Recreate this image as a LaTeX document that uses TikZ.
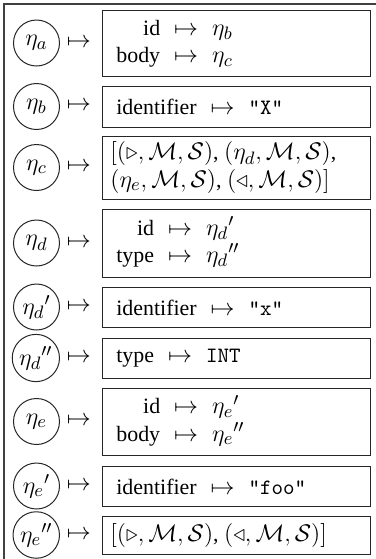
\documentclass[tikz,border=0pt]{standalone}
\usepackage{fontspec}
\setmainfont{Liberation Serif}
\DeclareMathSizes{10.95}{12}{8.6}{6.5}
\begin{document}
\begin{tikzpicture}[x=0.5pt,y=-0.5pt,
  every node/.style={font=\fontsize{10.95}{13.6}\selectfont},
  frame/.style={draw=black!75,line width=0.6pt},
  entry/.style={draw=black!85,line width=0.6pt,rectangle,minimum width=134pt,anchor=north west,inner sep=0pt},
  handle/.style={draw=black!85,line width=0.5pt,circle,minimum size=23pt,inner sep=1.2pt,anchor=east},
  content/.style={anchor=west,inner sep=0pt,align=left},
  maps/.style={inner sep=0pt}]
\useasboundingbox (0,0) rectangle (376,559);
\draw[frame] (4,559) -- (4,4) -- (376,4);
% row a
\node[entry,minimum height=33pt] (bA) at (102,10) {};
\node[content] (tA) at ([xshift=7pt]bA.west) {\begin{tabular}{@{}r@{\hspace{7pt}}c@{\hspace{7pt}}l@{}}id&$\mapsto$&$\eta_b$\\body&$\mapsto$&$\eta_c$\end{tabular}};
\node[handle] (cA) at (60,43) {$\eta_a$};
\node[maps] (mA) at (79,43) {$\mapsto$};
% row b
\node[entry,minimum height=20.5pt] (bB) at (102,86) {};
\node[content] (tB) at ([xshift=7pt]bB.west) {identifier\hspace{7pt}$\mapsto$\hspace{7pt}\texttt{"X"}};
\node[handle] (cB) at (60,106.5) {$\eta_b$};
\node[maps] (mB) at (79,106.5) {$\mapsto$};
% row c
\node[entry,minimum height=31.5pt] (bC) at (102,136) {};
\node[content] (tC) at ([xshift=4pt]bC.west) {\begin{tabular}{@{}l@{}}$[(\triangleright, \mathcal{M}, \mathcal{S})$, $(\eta_d, \mathcal{M}, \mathcal{S})$,\\$(\eta_e, \mathcal{M}, \mathcal{S})$, $(\triangleleft, \mathcal{M}, \mathcal{S})]$\end{tabular}};
\node[handle] (cC) at (60,167.5) {$\eta_c$};
\node[maps] (mC) at (79,167.5) {$\mapsto$};
% row d
\node[entry,minimum height=34pt] (bD) at (102,209) {};
\node[content] (tD) at ([xshift=7pt]bD.west) {\begin{tabular}{@{}r@{\hspace{7pt}}c@{\hspace{7pt}}l@{}}id&$\mapsto$&${\eta_d}'$\\type&$\mapsto$&${\eta_d}''$\end{tabular}};
\node[handle] (cD) at (60,243) {$\eta_d$};
\node[maps] (mD) at (79,243) {$\mapsto$};
% row d'
\node[entry,minimum height=20pt] (bDp) at (102,287) {};
\node[content] (tDp) at ([xshift=7pt]bDp.west) {identifier\hspace{7pt}$\mapsto$\hspace{7pt}\texttt{"x"}};
\node[handle] (cDp) at (60,307) {${\eta_d}'$};
\node[maps] (mDp) at (79,307) {$\mapsto$};
% row d''
\node[entry,minimum height=20pt] (bDpp) at (102,338) {};
\node[content] (tDpp) at ([xshift=7pt]bDpp.west) {type\hspace{7pt}$\mapsto$\hspace{7pt}\texttt{INT}};
\node[handle] (cDpp) at (60,358) {${\eta_d}''$};
\node[maps] (mDpp) at (79,358) {$\mapsto$};
% row e
\node[entry,minimum height=33.5pt] (bE) at (102,388) {};
\node[content] (tE) at ([xshift=7pt]bE.west) {\begin{tabular}{@{}r@{\hspace{7pt}}c@{\hspace{7pt}}l@{}}id&$\mapsto$&${\eta_e}'$\\body&$\mapsto$&${\eta_e}''$\end{tabular}};
\node[handle] (cE) at (60,421.5) {$\eta_e$};
\node[maps] (mE) at (79,421.5) {$\mapsto$};
% row e'
\node[entry,minimum height=20pt] (bEp) at (102,466) {};
\node[content] (tEp) at ([xshift=7pt]bEp.west) {identifier\hspace{7pt}$\mapsto$\hspace{7pt}\texttt{"foo"}};
\node[handle] (cEp) at (60,486) {${\eta_e}'$};
\node[maps] (mEp) at (79,486) {$\mapsto$};
% row e''
\node[entry,minimum height=19pt] (bEpp) at (102,516) {};
\node[content] (tEpp) at ([xshift=4pt]bEpp.west) {$[(\triangleright, \mathcal{M}, \mathcal{S})$, $(\triangleleft, \mathcal{M}, \mathcal{S})]$};
\node[handle] (cEpp) at (60,535) {${\eta_e}''$};
\node[maps] (mEpp) at (79,535) {$\mapsto$};
\end{tikzpicture}
\end{document}
